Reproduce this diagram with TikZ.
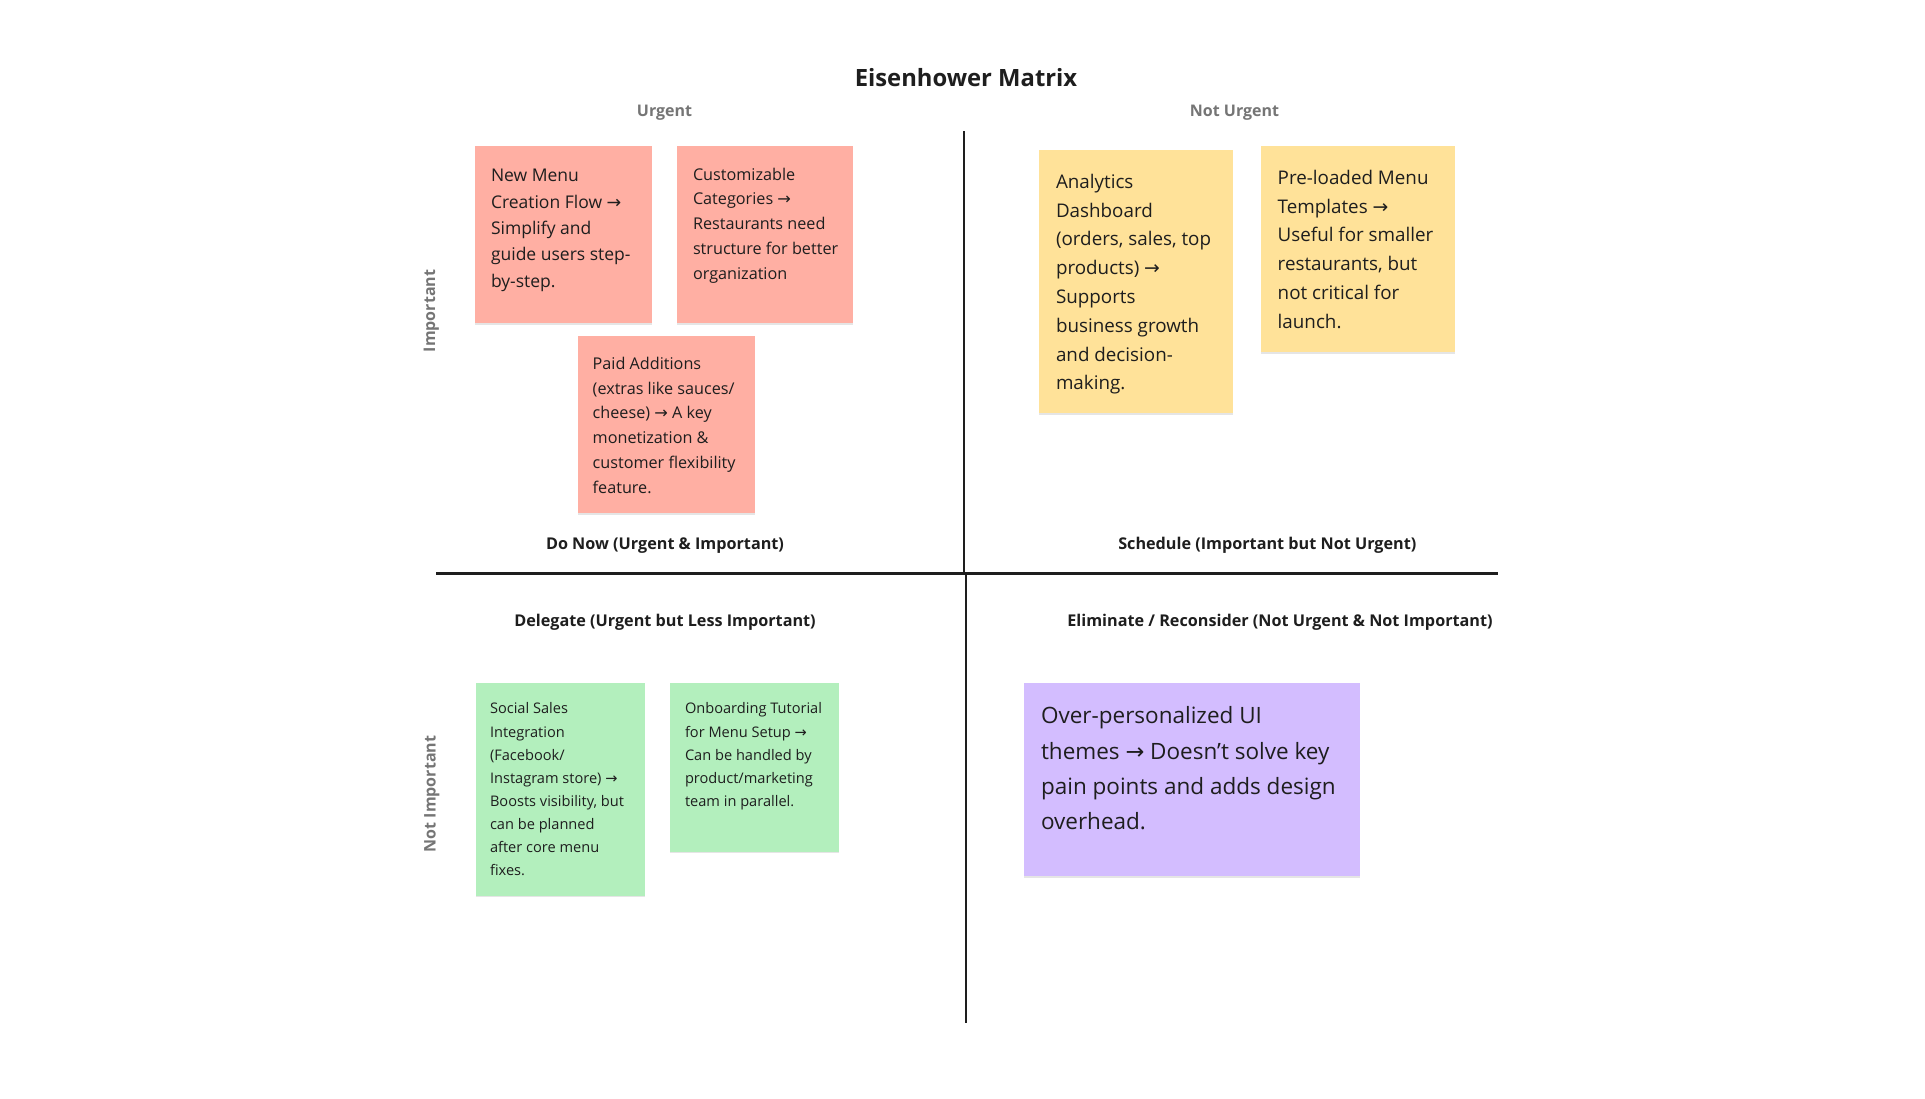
\documentclass[tikz,border=0pt]{standalone}
\usepackage{fontspec}
\setmainfont{Open Sans}
\newfontfamily\arrowfont{DejaVu Sans}
\newcommand{\rarr}{{\arrowfont →}}
\usetikzlibrary{shadows}
\definecolor{redsticky}{HTML}{FFAFA3}
\definecolor{yellowsticky}{HTML}{FFE299}
\definecolor{greensticky}{HTML}{B3EFBD}
\definecolor{purplesticky}{HTML}{D3BDFF}
\definecolor{inkdark}{HTML}{1E1E1E}
\definecolor{inkgray}{HTML}{757575}
\tikzset{
  sticky/.style={draw=none, inner sep=0pt, outer sep=0pt, anchor=north west,
    drop shadow={shadow xshift=0pt, shadow yshift=-1.5pt, opacity=0.10, fill=black}},
  stickytext/.style={inner sep=0pt, outer sep=0pt, anchor=north west, align=left, text=inkdark},
  axislabel/.style={inner sep=0pt, anchor=base, text=inkgray, font=\bfseries\fontsize{16}{19}\selectfont},
  quadlabel/.style={inner sep=0pt, anchor=base, text=inkdark, font=\bfseries\fontsize{16.2}{20}\selectfont},
  axisline/.style={draw=inkdark, line width=2pt},
}
\begin{document}
\begin{tikzpicture}[x=1pt,y=-1pt]
\useasboundingbox[fill=white] (0,0) rectangle (1925,1098);

% title and axis labels
\node[inner sep=0pt, anchor=base, text=inkdark, font=\bfseries\fontsize{23.8}{28}\selectfont] (title) at (966,86.7) {Eisenhower Matrix};
\node[axislabel] (urgent) at (664.5,116.7) {Urgent};
\node[axislabel] (noturgent) at (1234.5,116.7) {Not Urgent};
\node[axislabel, rotate=90] (important) at (435,311) {Important};
\node[axislabel, rotate=90] (notimportant) at (435.5,794) {Not Important};

% axes
\coordinate (vtop) at (963.5,131);
\coordinate (vmid) at (963.5,573.3);
\coordinate (vmid2) at (966,573.3);
\coordinate (vbot) at (966,1023);
\coordinate (hleft) at (436,573.3);
\coordinate (hright) at (1498,573.3);
\draw[axisline] (vtop) -- (vmid);
\draw[axisline] (vmid2) -- (vbot);
\draw[axisline, line width=2.5pt] (hleft) -- (hright);

% quadrant labels
\node[quadlabel] (donow) at (665,549.3) {Do Now (Urgent \& Important)};
\node[quadlabel] (schedule) at (1267.3,549.3) {Schedule (Important but Not Urgent)};
\node[quadlabel] (delegate) at (665,626.7) {Delegate (Urgent but Less Important)};
\node[quadlabel] (eliminate) at (1280,626.7) {Eliminate / Reconsider (Not Urgent \& Not Important)};

% red stickies
\node[sticky, fill=redsticky, minimum width=177pt, minimum height=177pt] (r1) at (475,146) {};
\node[stickytext, font=\fontsize{17.5}{26.4}\selectfont] (r1t) at (491,163.2)
  {\strut New Menu\\Creation Flow \rarr\\Simplify and\\guide users step-\\by-step.};
\node[sticky, fill=redsticky, minimum width=176pt, minimum height=177pt] (r2) at (677,146) {};
\node[stickytext, font=\fontsize{16.2}{24.9}\selectfont] (r2t) at (693,162.6)
  {\strut Customizable\\Categories \rarr\\Restaurants need\\structure for better\\organization};
\node[sticky, fill=redsticky, minimum width=177pt, minimum height=177pt] (r3) at (577.5,336) {};
\node[stickytext, font=\fontsize{16.2}{24.8}\selectfont] (r3t) at (592.7,351.9)
  {\strut Paid Additions\\(extras like sauces/\\cheese) \rarr\ A key\\monetization \&\\customer flexibility\\feature.};

% yellow stickies
\node[sticky, fill=yellowsticky, minimum width=194pt, minimum height=263pt] (y1) at (1039,150) {};
\node[stickytext, font=\fontsize{18.8}{28.8}\selectfont] (y1t) at (1056,168.1)
  {\strut Analytics\\Dashboard\\(orders, sales, top\\products) \rarr\\Supports\\business growth\\and decision-\\making.};
\node[sticky, fill=yellowsticky, minimum width=194pt, minimum height=206pt] (y2) at (1261,146) {};
\node[stickytext, font=\fontsize{18.8}{28.8}\selectfont] (y2t) at (1277.7,164.1)
  {\strut Pre-loaded Menu\\Templates \rarr\\Useful for smaller\\restaurants, but\\not critical for\\launch.};

% green stickies
\node[sticky, fill=greensticky, minimum width=169.5pt, minimum height=212.7pt] (g1) at (475.5,683) {};
\node[stickytext, font=\fontsize{14.6}{23.1}\selectfont] (g1t) at (490,697.8)
  {\strut Social Sales\\Integration\\(Facebook/\\Instagram store) \rarr\\Boosts visibility, but\\can be planned\\after core menu\\fixes.};
\node[sticky, fill=greensticky, minimum width=169pt, minimum height=168.7pt] (g2) at (670,683) {};
\node[stickytext, font=\fontsize{14.6}{23.1}\selectfont] (g2t) at (685,697.8)
  {\strut Onboarding Tutorial\\for Menu Setup \rarr\\Can be handled by\\product/marketing\\team in parallel.};

% purple sticky
\node[sticky, fill=purplesticky, minimum width=336pt, minimum height=193pt] (p1) at (1024,683) {};
\node[stickytext, font=\fontsize{22.5}{35.1}\selectfont] (p1t) at (1041,699.4)
  {\strut Over-personalized UI\\themes \rarr\ Doesn’t solve key\\pain points and adds design\\overhead.};
\end{tikzpicture}
\end{document}
